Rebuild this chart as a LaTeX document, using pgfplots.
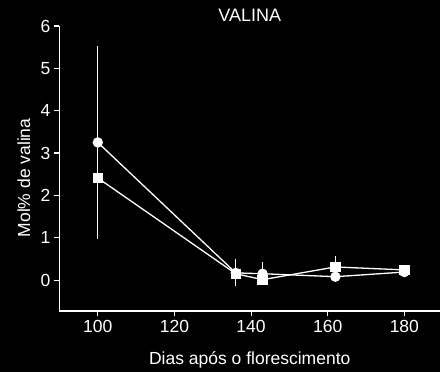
\documentclass[border=0pt]{standalone}
\usepackage{fontspec}
\setmainfont{Liberation Sans}
\usepackage{pgfplots}
\pgfplotsset{compat=1.18}
\begin{document}
\begin{tikzpicture}[x=1pt,y=1pt]
\fill[black] (-59.5,-61) rectangle (380.5,311);
\begin{axis}[
  at={(0,0)}, anchor=south west,
  scale only axis, width=380.5pt, height=285pt,
  xmin=90, xmax=189.3, ymin=-0.73, ymax=6,
  axis x line*=bottom, axis y line*=left,
  axis line style={white, line width=1.1pt},
  tick align=outside, major tick length=5.5pt,
  tick style={white, line width=1.1pt},
  xtick={100,120,140,160,180}, ytick={0,1,2,3,4,5,6},
  font=\fontsize{17.5}{21}\selectfont,
  ticklabel style={white, font=\fontsize{17.5}{21}\selectfont, /pgf/number format/assume math mode=true},
  title={VALINA},
  every axis title/.style={white, font=\fontsize{18}{21}\selectfont, at={(axis description cs:0.5,1)}, anchor=base, yshift=4.3pt},
  xlabel={Dias após o florescimento},
  xlabel style={white, at={(axis description cs:0.5,-0.186)}, anchor=base},
  ylabel={Mol\% de valina},
  ylabel style={white, at={(axis description cs:-0.0775,0.467)}, anchor=base},
  clip=false,
]
\addplot[white, line width=1.3pt, mark=*, mark size=4.5pt, mark options={fill=white, draw=white},
  error bars/.cd, y dir=both, y explicit,
  error bar style={white, line width=0.8pt},
  error mark options={white, line width=0.8pt, mark size=3pt}]
  coordinates {
  (100,3.25) +- (0,2.2)
  (136,0.17) +- (0,0.25)
  (143,0.15) +- (0,0.2)
  (162,0.08) +- (0,0)
  (180,0.19) +- (0,0)
  };
\addplot[white, line width=1.3pt, mark=square*, mark size=4.5pt, mark options={fill=white, draw=white},
  error bars/.cd, y dir=both, y explicit,
  error bar style={white, line width=0.8pt},
  error mark options={white, line width=0.8pt, mark size=3pt}]
  coordinates {
  (100,2.41) +- (0,0.15)
  (136,0.15) +- (0,0)
  (143,0.01) +- (0,0)
  (162,0.31) +- (0,0.19)
  (180,0.24) +- (0,0)
  };
\end{axis}
\pgfresetboundingbox
\path[use as bounding box] (-59.5,-61) rectangle (380.5,311);
\end{tikzpicture}
\end{document}
